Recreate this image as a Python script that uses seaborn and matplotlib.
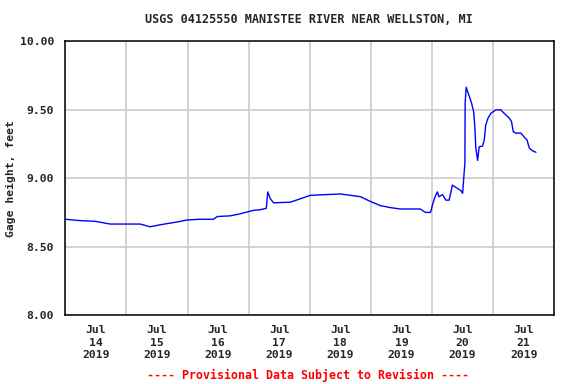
import numpy as np
import pandas as pd
import matplotlib
matplotlib.use("Agg")
import matplotlib.pyplot as plt
import matplotlib.dates as mdates
import seaborn as sns

# hours since Jul 14 2019 00:00 and gage height (feet)
hours = [0, 5.8, 11.7, 17.6, 23.9, 29.4, 33.3, 37.3, 43.9, 47.9, 53.0, 58.1,
         59.7, 64.8, 68.7, 73.8, 76.6, 78.9, 79.5, 80.5, 81.8, 88.4, 92.3,
         96.2, 102.1, 108.0, 111.9, 115.9, 119.8, 123.7, 127.7, 131.6, 139.4,
         141.4, 143.4, 144.4, 145.2, 146.1, 146.7, 148.1, 149.4, 150.7, 151.3,
         152.0, 154.0, 155.3, 156.0, 156.4, 156.9, 157.0, 157.4, 158.6, 159.5,
         160.3, 160.8, 161.2, 161.9, 162.5, 163.8, 164.5, 165.1, 166.0, 167.1,
         169.1, 171.0, 172.3, 174.3, 175.2, 175.9, 176.9, 178.9, 180.2, 181.3,
         182.2, 183.5, 184.8]
gage = [8.70, 8.69, 8.685, 8.665, 8.665, 8.665, 8.645, 8.66, 8.68, 8.695, 8.70,
        8.70, 8.72, 8.725, 8.74, 8.765, 8.77, 8.78, 8.90, 8.85, 8.82, 8.825,
        8.85, 8.875, 8.88, 8.885, 8.875, 8.865, 8.83, 8.80, 8.785, 8.775, 8.775,
        8.75, 8.75, 8.82, 8.865, 8.90, 8.865, 8.88, 8.84, 8.84, 8.89, 8.95,
        8.925, 8.91, 8.89, 8.99, 9.11, 9.55, 9.665, 9.60, 9.55, 9.49, 9.38,
        9.22, 9.13, 9.23, 9.235, 9.28, 9.39, 9.44, 9.475, 9.50, 9.50, 9.475,
        9.44, 9.415, 9.34, 9.33, 9.33, 9.30, 9.28, 9.22, 9.20, 9.19]

start = pd.Timestamp("2019-07-14 00:00")
df = pd.DataFrame({
    "time": start + pd.to_timedelta(hours, unit="h"),
    "gage": gage,
})

sns.set_style("white")
plt.rcParams["font.family"] = ["DejaVu Sans Mono"]
plt.rcParams["font.weight"] = "bold"

fig = plt.figure(figsize=(5.76, 3.84), dpi=100)
ax = fig.add_axes([0.1134, 0.1797, 0.8489, 0.7123])

sns.lineplot(data=df, x="time", y="gage", color="#0000ff", linewidth=1.0, ax=ax)

ax.set_xlim(start, start + pd.Timedelta(days=8))
ax.set_ylim(8.0, 10.0)

# labels at noon, grid at midnight
ax.xaxis.set_major_locator(mdates.HourLocator(byhour=[12]))
ax.xaxis.set_major_formatter(mdates.DateFormatter("%b\n%d\n%Y"))
ax.xaxis.set_minor_locator(mdates.DayLocator())
ax.set_yticks([8.0, 8.5, 9.0, 9.5, 10.0])
ax.set_yticklabels(["8.00", "8.50", "9.00", "9.50", "10.00"])

ax.grid(False)
ax.grid(which="minor", axis="x", color="#cccccc", linewidth=1.2)
ax.grid(which="major", axis="y", color="#cccccc", linewidth=1.2)
ax.tick_params(which="both", length=0)
ax.tick_params(axis="x", pad=7, labelsize=8.2)
ax.tick_params(axis="y", pad=8, labelsize=8.2)
for lab in ax.get_xticklabels():
    lab.set_linespacing(1.35)
for s in ax.spines.values():
    s.set_color("black")
    s.set_linewidth(1.1)

ax.set_xlabel("")
ax.set_ylabel("Gage height, feet", fontsize=8.2, fontweight="bold")
ax.yaxis.set_label_coords(-0.101, 0.5)

fig.text(0.536, 0.95, "USGS 04125550 MANISTEE RIVER NEAR WELLSTON, MI",
         ha="center", va="center", fontsize=8.5, fontweight="bold")
fig.text(0.535, 0.023, "---- Provisional Data Subject to Revision ----",
         ha="center", va="center", fontsize=8.4, fontweight="bold", color="red")

fig.savefig("out.png", dpi=100)
